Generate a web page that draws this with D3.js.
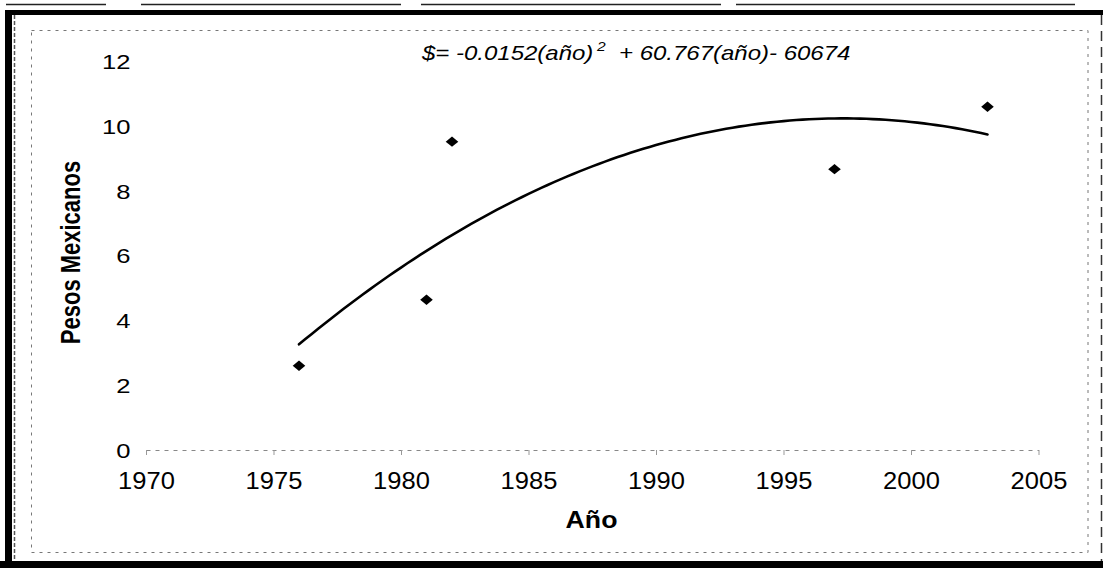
<!DOCTYPE html>
<html>
<head>
<meta charset="utf-8">
<script src="https://cdn.jsdelivr.net/npm/d3@7"></script>
<style>
  html, body { margin: 0; padding: 0; background: #fff; }
  svg { display: block; }
</style>
</head>
<body>
<script>
// ---- data ----
const years = [1976, 1981, 1982, 1997, 2003];
const pesos = [2.60, 4.64, 9.53, 8.68, 10.61];
const xTicks = [1970, 1975, 1980, 1985, 1990, 1995, 2000, 2005];
const yTicks = [0, 2, 4, 6, 8, 10, 12];
const xTitle = "Año";
const yTitle = "Pesos Mexicanos";
const eqMain = "$= -0.0152(año)";
const eqSup = "2";
const eqRest = "  + 60.767(año)- 60674";

const FONT = "Arial, 'Liberation Sans', sans-serif";
const W = 1103, H = 568;

const svg = d3.select("body").append("svg")
  .attr("width", W).attr("height", H);

svg.append("rect").attr("width", W).attr("height", H).attr("fill", "#fff");

// ---- scanned frame ----
const frame = svg.append("g");
frame.append("rect").attr("x", 5).attr("y", 10).attr("width", 1098).attr("height", 5).attr("fill", "#000");
frame.append("line").attr("x1", 6).attr("x2", 1075).attr("y1", 4.5).attr("y2", 4.5)
  .attr("stroke", "#222").attr("stroke-width", 1.5).attr("stroke-dasharray", "100,35,260,20,300,15,400");
frame.append("rect").attr("x", 5).attr("y", 10).attr("width", 7).attr("height", 558).attr("fill", "#000");
frame.append("line").attr("x1", 14.5).attr("x2", 14.5).attr("y1", 15).attr("y2", 560)
  .attr("stroke", "#555").attr("stroke-width", 1.5).attr("stroke-dasharray", "4,2");
frame.append("rect").attr("x", 0).attr("y", 561).attr("width", W).attr("height", 7).attr("fill", "#000");
frame.append("line").attr("x1", 1101.5).attr("x2", 1101.5).attr("y1", 15).attr("y2", 561)
  .attr("stroke", "#333").attr("stroke-width", 1.5).attr("stroke-dasharray", "10,6");
// inner chart-area border (faint, dashed in the scan)
frame.append("rect").attr("x", 31.5).attr("y", 30.5).attr("width", 1056.5).attr("height", 522)
  .attr("fill", "none").attr("stroke", "#777").attr("stroke-width", 1).attr("stroke-dasharray", "3,5");

// ---- scales ----
const x = d3.scaleLinear().domain([1970, 2005]).range([146, 1038.5]);
const y = d3.scaleLinear().domain([0, 12]).range([450, 61.7]);

// ---- y axis (labels only) ----
const yAxisG = svg.append("g")
  .attr("transform", "translate(130.5,0)")
  .call(d3.axisLeft(y).tickValues(yTicks).tickSize(0).tickPadding(0).tickFormat(d3.format("d")));
yAxisG.select(".domain").remove();
yAxisG.selectAll("text")
  .attr("x", 0).attr("dy", "0.35em")
  .attr("transform", "scale(1.28,1)")
  .attr("fill", "#000")
  .style("font-family", FONT).style("font-size", "20px");

// ---- x axis ----
const xAxisG = svg.append("g")
  .attr("transform", `translate(0,${y(0)})`)
  .call(d3.axisBottom(x).tickValues(xTicks).tickSizeInner(5).tickSizeOuter(0)
    .tickPadding(18).tickFormat(d3.format("d")));
xAxisG.select(".domain")
  .attr("stroke", "#888").attr("stroke-width", 1).attr("stroke-dasharray", "4,5");
xAxisG.selectAll(".tick line").attr("stroke", "#999");
xAxisG.selectAll("text")
  .attr("transform", "scale(1.11,1)")
  .attr("fill", "#000")
  .style("font-family", FONT).style("font-size", "23px");

// ---- axis titles ----
svg.append("text")
  .attr("transform", "translate(591.5,528.3) scale(1.16,1)")
  .attr("text-anchor", "middle")
  .style("font-family", FONT).style("font-size", "23px").style("font-weight", "bold")
  .text(xTitle);

svg.append("text")
  .attr("transform", "translate(80,252.5) rotate(-90) scale(1,1.25)")
  .attr("text-anchor", "middle")
  .style("font-family", FONT).style("font-size", "22px").style("font-weight", "bold")
  .text(yTitle);

// ---- polynomial (order 2) trendline: least-squares fit of the data ----
function quadFit(xs, ys) {
  const m = d3.mean(xs);
  const t = xs.map(v => v - m);
  const S = k => d3.sum(t, v => Math.pow(v, k));
  const Sy = k => d3.sum(t, (v, i) => Math.pow(v, k) * ys[i]);
  const A = [[xs.length, S(1), S(2)], [S(1), S(2), S(3)], [S(2), S(3), S(4)]];
  const b = [Sy(0), Sy(1), Sy(2)];
  for (let i = 0; i < 3; i++) {
    for (let j = i + 1; j < 3; j++) {
      const f = A[j][i] / A[i][i];
      for (let k = i; k < 3; k++) A[j][k] -= f * A[i][k];
      b[j] -= f * b[i];
    }
  }
  const c = [0, 0, 0];
  for (let i = 2; i >= 0; i--) {
    let s = b[i];
    for (let k = i + 1; k < 3; k++) s -= A[i][k] * c[k];
    c[i] = s / A[i][i];
  }
  return v => c[0] + c[1] * (v - m) + c[2] * (v - m) * (v - m);
}
const fit = quadFit(years, pesos);
const [x0, x1] = d3.extent(years);
const curve = d3.range(x0, x1 + 0.001, 0.25).map(v => [v, fit(v)]);

svg.append("path")
  .datum(curve)
  .attr("fill", "none").attr("stroke", "#000").attr("stroke-width", 2.6)
  .attr("stroke-linecap", "round").attr("stroke-linejoin", "round")
  .attr("d", d3.line().x(d => x(d[0])).y(d => y(d[1])));

// ---- scatter markers (diamonds) ----
const diamond = {
  draw(ctx, size) {
    const r = Math.sqrt(size) / 2;
    ctx.moveTo(0, -r); ctx.lineTo(r * 1.2, 0); ctx.lineTo(0, r); ctx.lineTo(-r * 1.2, 0); ctx.closePath();
  }
};
svg.append("g").selectAll("path")
  .data(years.map((yr, i) => ({ yr, v: pesos[i] })))
  .join("path")
  .attr("transform", d => `translate(${x(d.yr)},${y(d.v)})`)
  .attr("d", d3.symbol().type(diamond).size(110))
  .attr("fill", "#000");

// ---- trendline equation ----
const eq = svg.append("text")
  .attr("transform", "translate(422,60) scale(1.2,1)")
  .style("font-family", FONT).style("font-size", "20px").style("font-style", "italic")
  .style("white-space", "pre");
eq.append("tspan").text(eqMain);
eq.append("tspan").attr("dy", -9).attr("dx", 3).style("font-size", "13px").text(eqSup);
eq.append("tspan").attr("dy", 9).text(eqRest);
</script>
</body>
</html>
